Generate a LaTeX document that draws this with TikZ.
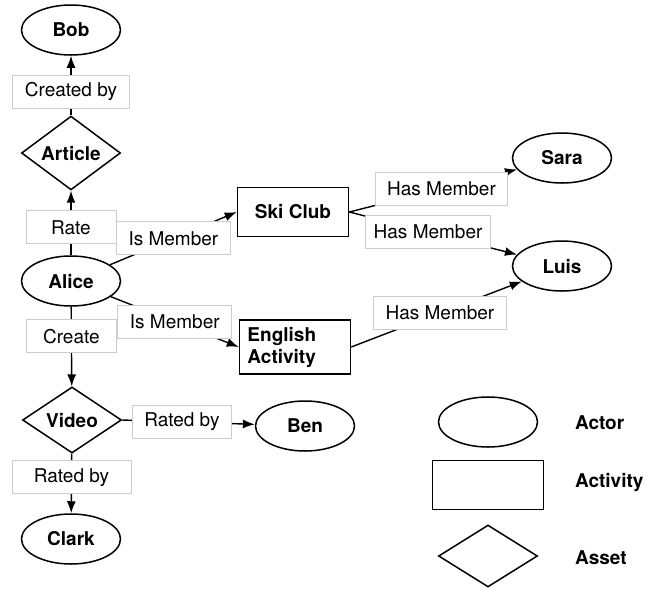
\documentclass[tikz,border=0pt]{standalone}
\usepackage{fontspec}
\setmainfont{TeX Gyre Heros}
\usetikzlibrary{shapes.geometric}
\usetikzlibrary{arrows.meta}

\begin{document}
\begin{tikzpicture}[x=0.5pt,y=-0.5pt,font=\fontsize{9.5}{10.5}\selectfont,
actor/.style={ellipse,draw=black,line width=0.75pt,minimum width=49.5pt,minimum height=25pt,font=\fontsize{9.5}{10.5}\selectfont\bfseries},
activity/.style={rectangle,draw=black,line width=0.75pt,minimum width=55.5pt,minimum height=24.5pt,font=\fontsize{9.5}{11}\selectfont\bfseries},
asset/.style={diamond,draw=black,line width=0.75pt,minimum width=49.5pt,minimum height=31pt,inner sep=0pt,font=\fontsize{9.5}{10.5}\selectfont\bfseries},
rel/.style={-{Latex[length=6pt,width=4.5pt]},line width=0.7pt},
lbl/.style={rectangle,draw=black!20,fill=white,line width=0.5pt,minimum width=45pt,minimum height=16.5pt,inner xsep=6pt}]
\useasboundingbox (0,0) rectangle (655,591);

\node [actor] (bob) at (71,30) {Bob};
\node [asset] (article) at (71,153) {Article};
\node [actor] (alice) at (71,281) {Alice};
\node [asset] (video) at (72,420) {Video};
\node [actor] (ben) at (305,426) {Ben};
\node [actor] (clark) at (71,539) {Clark};
\node [activity] (ski) at (293,212) {Ski Club};
\node [activity,text width=47.5pt,inner xsep=4pt,align=left] (english) at (295,347) {English\\Activity};
\node [actor] (sara) at (562,158) {Sara};
\node [actor] (luis) at (562,266) {Luis};

\draw [rel] (article) -- node [lbl,pos=0.4] {Created by} (bob);
\draw [rel] (alice) -- node [lbl,pos=0.43] {Rate} (article);
\draw [rel] (alice) -- node [lbl,pos=0.5] {Is Member} (ski.west);
\draw [rel] (alice) -- node [lbl,pos=0.5] {Is Member} (english.west);
\draw [rel] (alice) -- node [lbl,pos=0.37] {Create} (video);
\draw [rel] (video.east) -- node [lbl,pos=0.45] {Rated by} (ben);
\draw [rel] (video) -- node [lbl,pos=0.4,minimum width=59.5pt] {Rated by} (clark);
\draw [rel] (ski.east) -- node [lbl,pos=0.55] {Has Member} (sara);
\draw [rel] (ski.east) -- node [lbl,pos=0.47,inner xsep=4pt] {Has Member} (luis);
\draw [rel] (english.east) -- node [lbl,pos=0.52] {Has Member} (luis);

% legend
\node [actor] (actorkey) at (488,422) {};
\node [activity] (activitykey) at (488,485) {};
\node [asset] (assetkey) at (488,556) {};
\node [anchor=west,font=\fontsize{9.5}{10.5}\selectfont\bfseries] (actortext) at (568,423) {Actor};
\node [anchor=west,font=\fontsize{9.5}{10.5}\selectfont\bfseries] (activitytext) at (568,482) {Activity};
\node [anchor=west,font=\fontsize{9.5}{10.5}\selectfont\bfseries] (assettext) at (568,558) {Asset};
\end{tikzpicture}
\end{document}
